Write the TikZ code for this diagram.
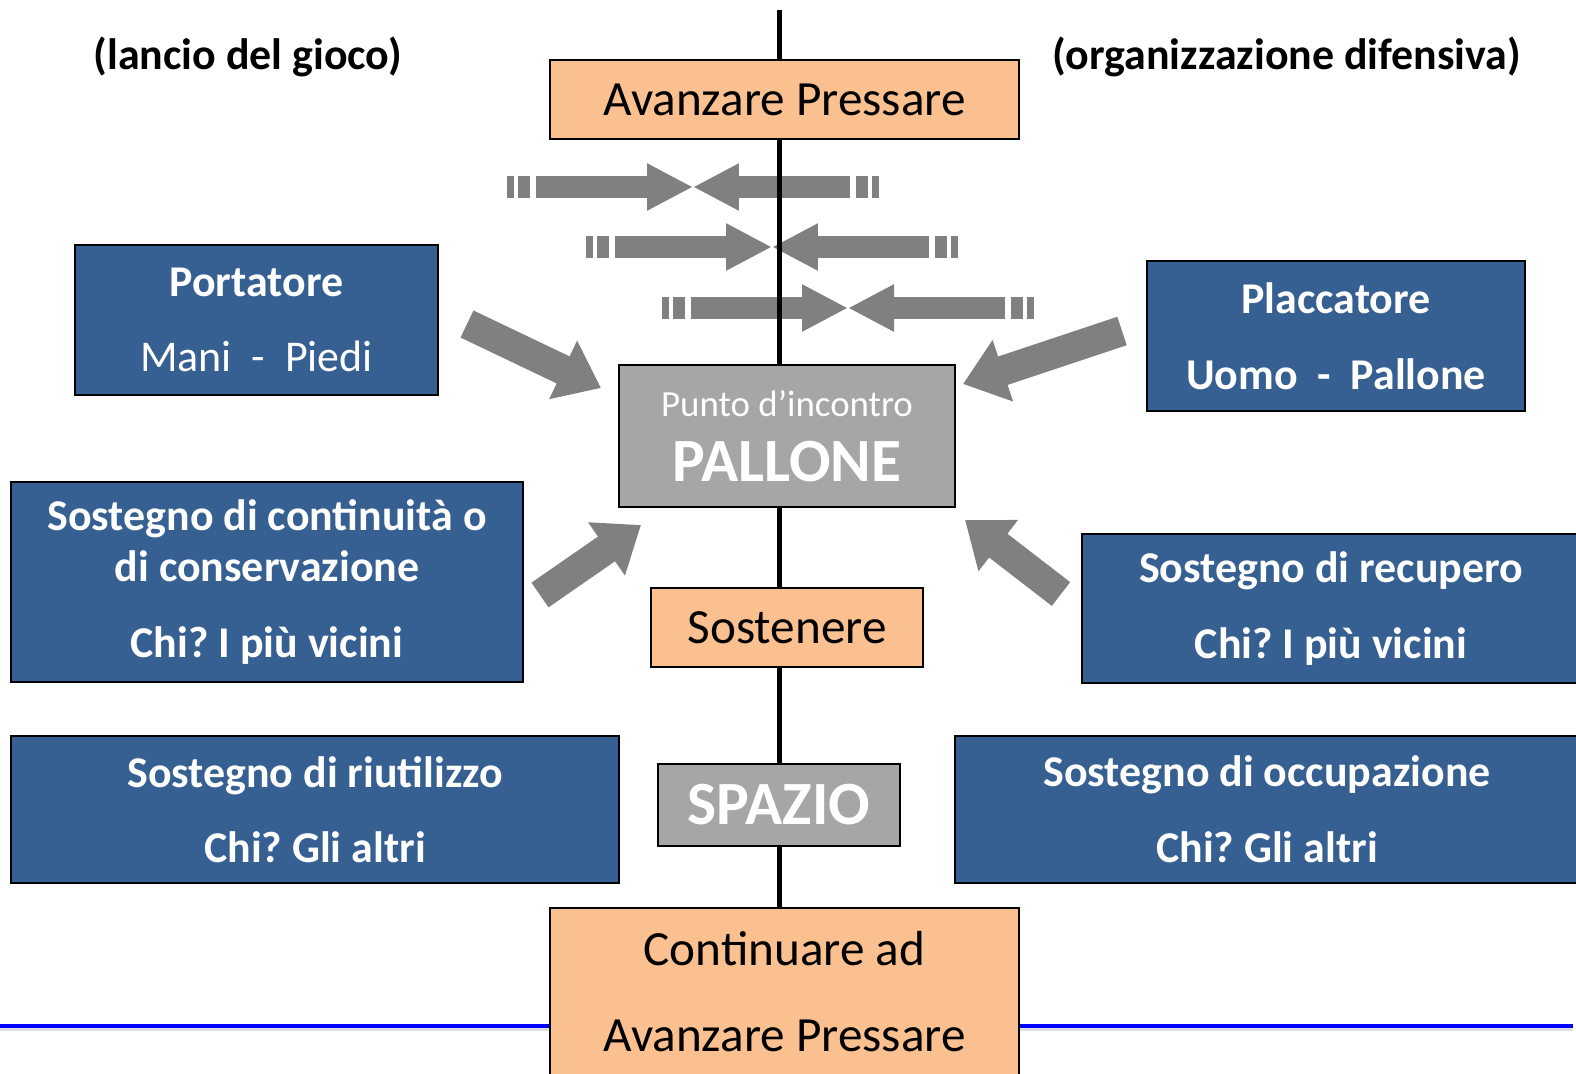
\documentclass[tikz,border=0pt]{standalone}
\usepackage{fontspec}
\setmainfont{Carlito}
\usetikzlibrary{arrows.meta}
\definecolor{boxblue}{RGB}{55,96,146}
\definecolor{boxorange}{RGB}{250,192,144}
\definecolor{boxgray}{RGB}{166,166,166}
\definecolor{arrowgray}{RGB}{128,128,128}
\frenchspacing

\begin{document}
\begin{tikzpicture}[x=0.02cm, y=-0.02cm, % 1 unit = 1 pixel of the slide
    bluebox/.style={draw=black, line width=1.2pt, fill=boxblue, text=white, align=center,
        inner sep=0pt, font=\fontsize{25}{29}\selectfont\bfseries},
    orangebox/.style={draw=black, line width=1.2pt, fill=boxorange, align=center,
        inner sep=0pt, font=\fontsize{28}{32}\selectfont},
    graybox/.style={draw=black, line width=1.2pt, fill=boxgray, text=white, align=center,
        inner sep=0pt},
    diagarrow/.style={draw=arrowgray, line width=0.6cm, -{Triangle[length=0.84cm, width=1.24cm]}},
    flatarrow/.style={draw=arrowgray, line width=0.44cm, -{Triangle[length=0.92cm, width=0.88cm]}},
    sidelabel/.style={font=\fontsize{25}{28}\selectfont\bfseries}
]
    \useasboundingbox (0,0) rectangle (1576,1073);

    % Side titles
    \node[sidelabel] (attack) at (248,57) {(lancio del gioco)};
    \node[sidelabel] (defence) at (1287,57) {(organizzazione difensiva)};

    % Opposing arrows at the top
    \foreach \y/\t in {187/693, 247/772, 308/848} {
        \draw[flatarrow] (\t-157,\y) -- (\t,\y);
        \draw[flatarrow] (\t+157,\y) -- (\t,\y);
        \fill[arrowgray] (\t-186,\y-11) rectangle ++(7,22);
        \fill[arrowgray] (\t-175,\y-11) rectangle ++(12,22);
        \fill[arrowgray] (\t+163,\y-11) rectangle ++(12,22);
        \fill[arrowgray] (\t+179,\y-11) rectangle ++(7,22);
    }

    % Bottom rule
    \draw[gray!25, line width=0.08cm] (0,1029) -- (1573,1029);
    \draw[blue, line width=0.08cm] (0,1026) -- (1573,1026);

    % Central axis
    \coordinate (axistop) at (779,10);
    \coordinate (axisbottom) at (779,910);
    \draw[line width=0.1cm] (axistop) -- (axisbottom);

    % Boxes
    \node[orangebox, minimum width=9.38cm, minimum height=1.58cm] (avanzare) at (784.5,99.5) {Avanzare Pressare};
    \node[bluebox, minimum width=7.26cm, minimum height=3cm] (portatore) at (256.5,320)
        {Portatore\\[14pt]{\mdseries Mani \ - \ Piedi}};
    \node[bluebox, minimum width=7.56cm, minimum height=3cm] (placcatore) at (1336,336)
        {Placcatore\\[14pt]Uomo \ - \ Pallone};
    \node[graybox, minimum width=6.72cm, minimum height=2.84cm, font=\fontsize{21}{32}\selectfont] (pallone) at (787,436)
        {Punto d’incontro\\[5pt]{\fontsize{35}{32}\selectfont\bfseries PALLONE}};
    \node[bluebox, minimum width=10.24cm, minimum height=4cm] (continuita) at (267,582)
        {Sostegno di continuità o\\di conservazione\\[14pt]Chi? I più vicini};
    \node[orangebox, minimum width=5.44cm, minimum height=1.58cm] (sostenere) at (787,627.5) {Sostenere};
    \node[bluebox, minimum width=9.96cm, minimum height=2.98cm] (recupero) at (1331,608.5)
        {Sostegno di recupero\\[14pt]Chi? I più vicini};
    \node[bluebox, minimum width=12.16cm, minimum height=2.94cm] (riutilizzo) at (315,809.5)
        {Sostegno di riutilizzo\\[14pt]Chi? Gli altri};
    \node[graybox, minimum width=4.84cm, minimum height=1.64cm, font=\fontsize{35}{36}\selectfont\bfseries] (spazio) at (779,805) {SPAZIO};
    \node[bluebox, minimum width=12.48cm, minimum height=2.94cm] (occupazione) at (1267,809.5)
        {Sostegno di occupazione\\[14pt]Chi? Gli altri};
    \node[orangebox, minimum width=9.38cm, minimum height=3.36cm] (continuare) at (784.5,992)
        {Continuare ad\\[17pt]Avanzare Pressare};

    % Arrows towards the ball
    \coordinate (portatoretail) at (467,324);
    \coordinate (portatoretip) at (601,388);
    \coordinate (placcatoretail) at (1122,331);
    \coordinate (placcatoretip) at (963,384);
    \coordinate (continuitatail) at (540,595);
    \coordinate (continuitatip) at (641,525);
    \coordinate (recuperotail) at (1061,594);
    \coordinate (recuperotip) at (965,520);
    \draw[diagarrow] (portatoretail) -- (portatoretip);
    \draw[diagarrow] (placcatoretail) -- (placcatoretip);
    \draw[diagarrow] (continuitatail) -- (continuitatip);
    \draw[diagarrow] (recuperotail) -- (recuperotip);
\end{tikzpicture}
\end{document}
